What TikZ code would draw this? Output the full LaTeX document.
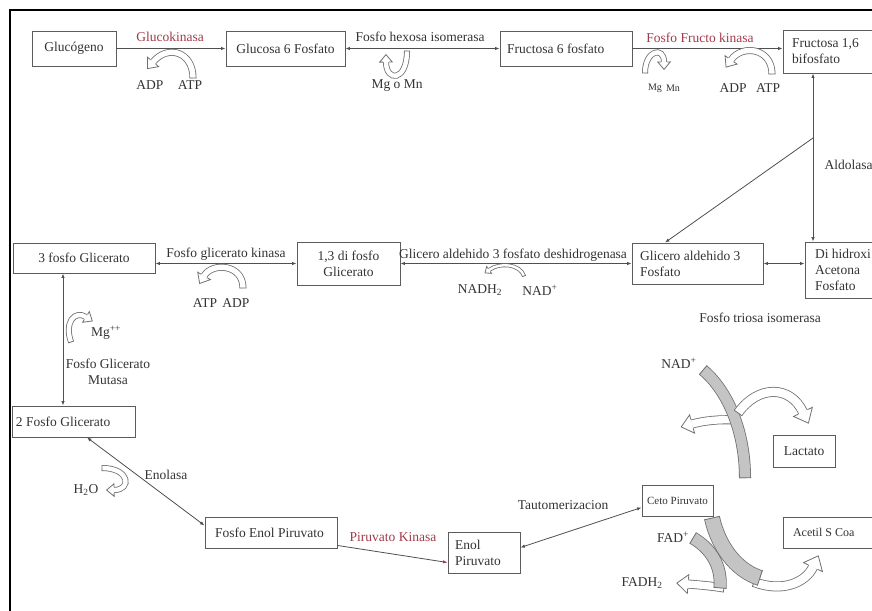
\documentclass[tikz,border=0pt]{standalone}
\usepackage{fontspec}
\setmainfont{Liberation Serif}
\usetikzlibrary{arrows.meta,decorations.markings,calc}

\definecolor{boxline}{HTML}{5C5C5C}
\definecolor{wire}{HTML}{505050}
\definecolor{enzred}{HTML}{A33A4A}
\definecolor{inktext}{HTML}{333333}
\definecolor{arrline}{HTML}{707070}
\definecolor{bandfill}{HTML}{C4C4C4}

% curved block arrow for cofactors: #1 body colour, #2 body width, #3 path
\newcommand{\cofarrow}[3][white]{%
  \draw[arrline, line width=#2] #3;
  \draw[#1, line width=#2-1.6pt] #3;
  \path[decorate, decoration={markings,
     mark=at position 0.001 with {\draw[arrline, line width=0.8pt] (0pt,-#2/2) -- (0pt,#2/2);},
     mark=at position 0.998 with {%
       \fill[#1] (0pt,-1.05*#2) -- (1.25*#2,0pt) -- (0pt,1.05*#2) -- cycle;
       \draw[arrline, line width=0.8pt, line join=miter]
          (0pt,-0.5*#2) -- (0pt,-1.05*#2) -- (1.25*#2,0pt) -- (0pt,1.05*#2) -- (0pt,0.5*#2);}}] #3;
}
% grey curved band: #1 width, #2 path
\newcommand{\grayband}[2]{%
  \draw[arrline, line width=#1] #2;
  \draw[bandfill, line width=#1-1.6pt] #2;
  \path[decorate, decoration={markings,
    mark=at position 0.001 with {\draw[arrline, line width=0.8pt] (0pt,-#1/2) -- (0pt,#1/2);},
    mark=at position 0.998 with {\draw[arrline, line width=0.8pt] (0pt,-#1/2) -- (0pt,#1/2);}}] #2;
}

\tikzset{
  every node/.style={font=\fontsize{13.5}{16}\selectfont, text=inktext},
  metab/.style={draw=boxline, line width=0.9pt, fill=white, inner sep=0pt, align=center},
  lbox/.style={align=left, execute at begin node={\spaceskip=0pt\relax}},
  conn/.style={draw=wire, line width=0.8pt},
  enz/.style={text=enzred},
  smalltxt/.style={font=\fontsize{10}{12}\selectfont},
}

\begin{document}
\begin{tikzpicture}[x=1pt, y=-1pt, >={Latex[length=4.5pt,width=3.5pt]}]
\useasboundingbox (0,0) rectangle (872,610);
\clip (0,0) rectangle (872,610);
\fill[white] (0,0) rectangle (872,610);
\draw[black, line width=2pt] (10,620) -- (10,10) -- (880,10);

% metabolites
\node[metab, minimum width=84pt, minimum height=35pt] (glyc) at (74,48.5) {Glucógeno};
\node[metab, minimum width=119pt, minimum height=35pt] (g6p) at (285.5,48.5) {Glucosa 6 Fosfato};
\node[metab, lbox, text width=118pt, inner xsep=7pt, minimum height=35pt] (f6p) at (566,48.5) {Fructosa 6 fosfato};
\node[metab, lbox, text width=99pt, inner xsep=9pt, minimum height=43pt] (f16bp) at (841.5,51.5) {Fructosa 1,6\\bifosfato};

\node[metab, minimum width=142pt, minimum height=30pt] (pg3) at (84,258) {3 fosfo Glicerato};
\node[metab, minimum width=103pt, minimum height=43pt] (bpg) at (348.5,263.5) {1,3 di fosfo\\Glicerato};
\node[metab, lbox, text width=115pt, inner xsep=8pt, minimum height=41pt] (gap) at (697.5,263.5) {Glicero aldehido 3\\Fosfato};
\node[metab, lbox, text width=80pt, inner xsep=10pt, minimum height=56pt] (dhap) at (855,270) {Di hidroxi\\Acetona\\Fosfato};

\node[metab, lbox, text width=115pt, inner xsep=4pt, minimum height=31pt] (pg2) at (73.5,421.5) {2 Fosfo Glicerato};
\node[metab, lbox, text width=112pt, inner xsep=10pt, minimum height=31pt] (pep) at (271,532.5) {Fosfo Enol Piruvato};
\node[metab, lbox, text width=58pt, inner xsep=7pt, minimum height=41pt] (enol) at (484,552.5) {Enol\\Piruvato};
\node[metab, minimum width=71pt, minimum height=31pt, font=\fontsize{11}{12}\selectfont] (ceto) at (677.5,500.5) {Ceto Piruvato};
\node[metab, minimum width=62pt, minimum height=32pt] (lact) at (804,451) {Lactato};
\node[metab, lbox, text width=97pt, inner xsep=10pt, minimum height=31pt, font=\fontsize{12}{14}\selectfont] (acoa) at (841.5,532.5) {Acetil S Coa};

% reactions
\draw[conn,->] (glyc) -- (g6p);
\draw[conn,<->] (g6p) -- (f6p);
\draw[conn,->] (f6p.east) -- (f6p.east -| f16bp.west);
\coordinate (aldx) at (813,0);
\draw[conn,<->] (f16bp.south -| aldx) -- (dhap.north -| aldx);
\coordinate (aldsplit) at (813,138);
\coordinate (gapin) at (665,0);
\draw[conn,->] (aldsplit) -- (gap.north -| gapin);
\draw[conn,<->] (gap.east) -- (gap.east -| dhap.west);
\draw[conn,<->] (bpg) -- (gap);
\draw[conn,<->] (pg3.east |- bpg.west) -- (bpg.west);
\coordinate (mutx) at (63,0);
\draw[conn,<->] (pg3.south -| mutx) -- (pg2.north -| mutx);
\coordinate (enox) at (87,0);
\draw[conn,<->] (pg2.south -| enox) -- ($(pep.west)+(0,-7)$);
\draw[conn,-{Latex[length=4.5pt,width=3.5pt,color=enzred]}] ($(pep.south east)+(0,-3)$) -- ($(enol.west)+(0,10)$);
\draw[conn,<->] ($(enol.east)+(0,-5)$) -- ($(ceto.west)+(0,7)$);

% enzyme labels
\node[enz] (lglk) at (170,37) {Glucokinasa};
\node (lhex) at (420,37) {Fosfo hexosa isomerasa};
\node[enz] (lpfk) at (700,38) {Fosfo Fructo kinasa};
\node[anchor=west] (lald) at (821,165) {Aldolasa};
\node (lpgk) at (226,254) {Fosfo glicerato kinasa};
\node (lgapdh) at (513,255) {Glicero aldehido 3 fosfato deshidrogenasa};
\node (ltim) at (760,318) {Fosfo triosa isomerasa};
\node[align=center] (lpgm) at (108,372) {Fosfo Glicerato\\Mutasa};
\node (leno) at (166,475) {Enolasa};
\node[enz] (lpk) at (393,537) {Piruvato Kinasa};
\node (ltau) at (563,505) {Tautomerizacion};

% cofactor labels
\node (adp1) at (150,85) {ADP};
\node (atp1) at (190,85) {ATP};
\node (mgmn1) at (397,86) {Mg o Mn};
\node[smalltxt] (mg2) at (655,88) {Mg};
\node[smalltxt] (mn2) at (673,88) {Mn};
\node (adp2) at (733,88) {ADP};
\node (atp2) at (768,88) {ATP};
\node (atp3) at (205,303) {ATP};
\node (adp3) at (236,303) {ADP};
\node (nadh) at (480,290) {NADH\textsubscript{2}};
\node (nad2) at (540,290) {NAD\textsuperscript{+}};
\node (mgpp) at (106,333) {Mg\textsuperscript{++}};
\node (lh2o) at (86,490) {H\textsubscript{2}O};
\node (lnad1) at (679,363) {NAD\textsuperscript{+}};
\node (lfad) at (673,537) {FAD\textsuperscript{+}};
\node (lfadh) at (642,583) {FADH\textsubscript{2}};

% cofactor arrows
\cofarrow{7pt}{(193,78) .. controls (193,52) and (168,44) .. (153,62)}
\cofarrow{6pt}{(407,51) .. controls (407,82) and (386,82) .. (386,62)}
\cofarrow{6pt}{(645,73) .. controls (645,50) and (664,46) .. (664,62)}
\cofarrow{7pt}{(772,74) .. controls (772,48) and (742,44) .. (731,60)}
\cofarrow{7pt}{(243,288) .. controls (243,264) and (212,262) .. (204,276)}
\cofarrow{4pt}{(524,276) .. controls (520,264) and (500,262) .. (489,270)}
\cofarrow{6pt}{(71,342) .. controls (64,322) and (75,310) .. (86,317)}
\cofarrow{6pt}{(102,468) .. controls (130,468) and (132,490) .. (114,490)}

% lactate branch
\cofarrow{9pt}{(735,420) .. controls (718,419) and (703,421) .. (692,424)}
\grayband{12pt}{(703,370) .. controls (727,390) and (745,430) .. (745,478)}
\cofarrow{10pt}{(738,413) .. controls (758,385) and (790,385) .. (803,412)}

% acetyl CoA branch
\cofarrow{9pt}{(724,588) .. controls (712,586) and (700,585) .. (688,584)}
\grayband{13pt}{(693,538) .. controls (710,548) and (722,565) .. (720,588)}
\cofarrow{10pt}{(754,582) .. controls (783,593) and (806,582) .. (813,567)}
\grayband{16pt}{(712,518) .. controls (718,545) and (735,570) .. (760,578)}
\end{tikzpicture}
\end{document}
